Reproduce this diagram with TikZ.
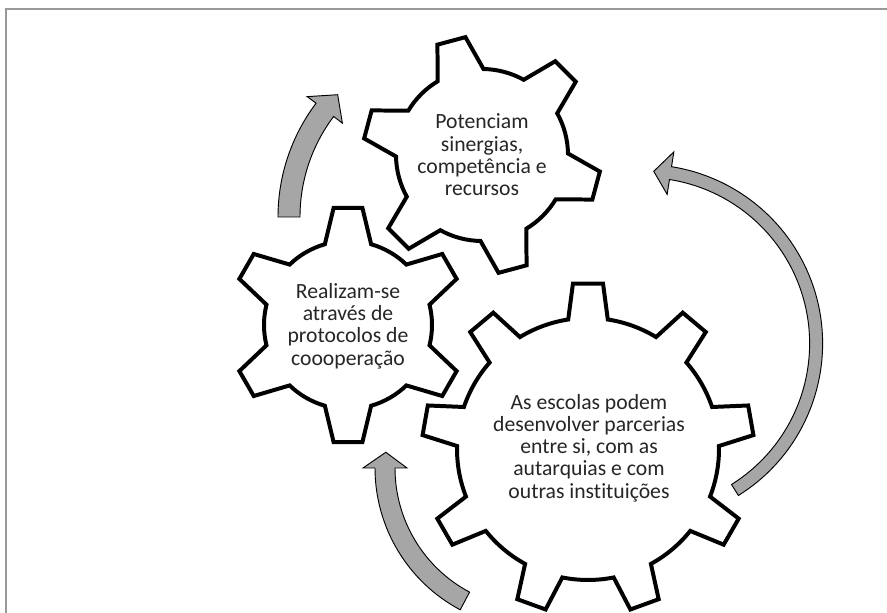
\documentclass[tikz,border=0pt]{standalone}
\usepackage{fontspec}
\setmainfont[Ligatures=NoCommon]{Carlito}
\tikzset{gear/.style = {draw=black, line width=3.4pt, fill=white, line join=miter}}
\tikzset{bentarrow/.style = {draw=black, line width=0.8pt, fill=black!35, line join=miter}}
\tikzset{geartext/.style = {align=center, text=black!85, font=\fontsize{18.5}{19}\selectfont}}
\tikzset{boxline/.style = {draw=black!40, line width=1.3pt}}

% cx, cy, inner r, outer r, teeth, first tooth angle, half base, half top
\newcommand{\cogwheel}[8]{
  \draw[gear, shift={(#1,#2)}] ({#6-#7}:#3)
    \foreach \k [evaluate=\k as \a using {#6+360/#5*(\k-1)}] in {1,...,#5} {
      -- ({\a-#8}:#4) -- ({\a+#8}:#4) -- ({\a+#7}:#3)
      arc[start angle=\a+#7, end angle=\a+360/#5-#7, radius=#3]
    } -- cycle;
}
% cx, cy, r, from, to, tip, half width, half head
\newcommand{\curvedarrow}[8]{
  \path[bentarrow, shift={(#1,#2)}] ({#4}:{#3+#7})
    arc[start angle=#4, end angle=#5, radius=#3+#7]
    -- ({#5}:{#3+#8}) -- ({#6}:{#3}) -- ({#5}:{#3-#8}) -- ({#5}:{#3-#7})
    arc[start angle=#5, end angle=#4, radius=#3-#7] -- cycle;
}

\begin{document}
\begin{tikzpicture}[x=0.03cm, y=0.03cm]
  \useasboundingbox (0,0) rectangle (887,613);
  \draw[boxline] (6,0) -- (6,604) -- (887,604);

  \curvedarrow{467}{396}{178}{180}{143}{136.6}{11}{22}
  \curvedarrow{643.5}{269.4}{172.6}{-58}{81}{86.6}{6.5}{21.5}
  \curvedarrow{535.6}{145}{150.6}{242}{180}{174}{10}{22}

  \cogwheel{482}{458}{86}{119}{6}{105}{16}{7}
  \cogwheel{348}{288}{84}{118}{6}{90}{16}{7}
  \cogwheel{588}{164}{131}{166}{9}{90}{8.7}{5.2}

  \node[geartext] (potenciam) at (482,458) {Potenciam\\sinergias,\\competência e\\recursos};
  \node[geartext] (realizam) at (348,287) {Realizam-se\\através de\\protocolos de\\coooperação};
  \node[geartext] (escolas) at (589,165) {As escolas podem\\desenvolver parcerias\\entre si, com as\\autarquias e com\\outras instituições};
\end{tikzpicture}
\end{document}
